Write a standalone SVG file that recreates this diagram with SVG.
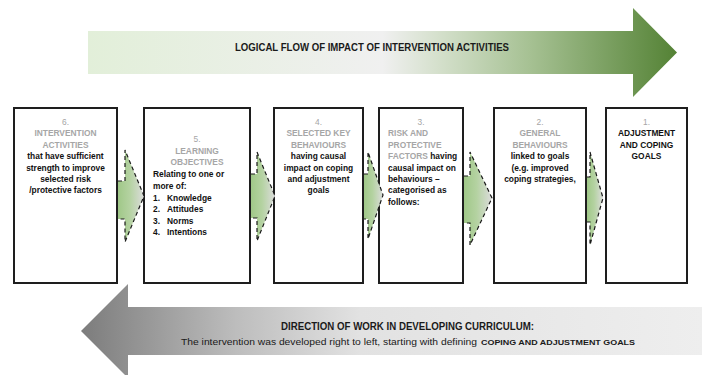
<svg xmlns="http://www.w3.org/2000/svg" width="702" height="375" viewBox="0 0 702 375">
<defs>
<linearGradient id="gTop" gradientUnits="userSpaceOnUse" x1="88" y1="0" x2="677" y2="0">
<stop offset="0" stop-color="#e2efd9"/>
<stop offset="0.5" stop-color="#f0f0f0"/>
<stop offset="0.6" stop-color="#d3dfca"/>
<stop offset="0.75" stop-color="#a6c193"/>
<stop offset="1" stop-color="#548235"/>
</linearGradient>
<linearGradient id="gBot" gradientUnits="userSpaceOnUse" x1="81" y1="0" x2="702" y2="0">
<stop offset="0" stop-color="#7c7c7c"/>
<stop offset="0.25" stop-color="#bdbdbd"/>
<stop offset="0.45" stop-color="#e2e2e2"/>
<stop offset="1" stop-color="#eeeeee"/>
</linearGradient>
<linearGradient id="gCon" x1="0" y1="0" x2="1" y2="0">
<stop offset="0" stop-color="#a0c888"/>
<stop offset="0.45" stop-color="#b4d2a1"/>
<stop offset="1" stop-color="#dcdcdc"/>
</linearGradient>
</defs>
<style>
.box{fill:#ffffff;stroke:#1e1e1e;stroke-width:2}
.con{fill:url(#gCon);stroke:#1a1a1a;stroke-width:1.2;stroke-dasharray:4 3}
text{font-family:'Liberation Sans',Arial,sans-serif;font-size:8.4px}
.b{font-weight:bold;fill:#111111}
.g{font-weight:bold;fill:#a6a6a6}
.n{fill:#a6a6a6}
.c{text-anchor:middle}
.big{font-size:10px;font-weight:bold;fill:#1a1a1a}
.norm{font-size:9.5px;fill:#1a1a1a}
.caps{font-size:7.8px;font-weight:bold;fill:#1a1a1a}
</style>

<g id="flow-arrow">
<path d="M88,31 H633 V8 L677,52.5 L633,97 V74 H88 Z" fill="url(#gTop)"/>
<text class="big" x="235" y="51" textLength="274" lengthAdjust="spacingAndGlyphs">LOGICAL FLOW OF IMPACT OF INTERVENTION ACTIVITIES</text>
</g>

<g id="dev-arrow">
<path d="M81,331 L128,284 V307 H702 V355 H128 V378 Z" fill="url(#gBot)"/>
<text class="big" x="281" y="330" textLength="253" lengthAdjust="spacingAndGlyphs">DIRECTION OF WORK IN DEVELOPING CURRICULUM:</text>
<text class="norm" x="181" y="345" textLength="296" lengthAdjust="spacingAndGlyphs">The intervention was developed right to left, starting with defining</text>
<text class="caps" x="481" y="345" textLength="154" lengthAdjust="spacingAndGlyphs">COPING AND ADJUSTMENT GOALS</text>
</g>

<g id="node-6">
<rect class="box" x="14" y="108" width="103" height="175"/>
<text class="n c" x="65.5" y="125">6.</text>
<text class="g c" x="65.5" y="136.4">INTERVENTION</text>
<text class="g c" x="65.5" y="147.8">ACTIVITIES</text>
<text class="b c" x="65.5" y="159.2">that have sufficient</text>
<text class="b c" x="65.5" y="170.6">strength to improve</text>
<text class="b c" x="65.5" y="182">selected risk</text>
<text class="b c" x="65.5" y="193.4">/protective factors</text>
</g>

<g id="node-5">
<rect class="box" x="144" y="108" width="106" height="175"/>
<text class="n c" x="197" y="142">5.</text>
<text class="g c" x="197" y="153.6">LEARNING</text>
<text class="g c" x="197" y="165">OBJECTIVES</text>
<text class="b" x="153" y="177">Relating to one or</text>
<text class="b" x="153" y="188.6">more of:</text>
<text class="b" x="153" y="200.5">1.</text><text class="b" x="167" y="200.5">Knowledge</text>
<text class="b" x="153" y="212">2.</text><text class="b" x="167" y="212">Attitudes</text>
<text class="b" x="153" y="223.5">3.</text><text class="b" x="167" y="223.5">Norms</text>
<text class="b" x="153" y="235">4.</text><text class="b" x="167" y="235">Intentions</text>
</g>

<g id="node-4">
<rect class="box" x="274" y="108" width="89" height="175"/>
<text class="n c" x="318.5" y="125">4.</text>
<text class="g c" x="318.5" y="136.4">SELECTED KEY</text>
<text class="g c" x="318.5" y="147.8">BEHAVIOURS</text>
<text class="b c" x="318.5" y="159.2">having causal</text>
<text class="b c" x="318.5" y="170.6">impact on coping</text>
<text class="b c" x="318.5" y="182">and adjustment</text>
<text class="b c" x="318.5" y="193.4">goals</text>
</g>

<g id="node-3">
<rect class="box" x="379" y="108" width="84" height="175"/>
<text class="n c" x="421" y="125">3.</text>
<text class="g" x="388" y="136.4">RISK AND</text>
<text class="g" x="388" y="147.8">PROTECTIVE</text>
<text class="g" x="388" y="159.2">FACTORS <tspan class="b">having</tspan></text>
<text class="b" x="388" y="170.6">causal impact on</text>
<text class="b" x="388" y="182">behaviours –</text>
<text class="b" x="388" y="193.4">categorised as</text>
<text class="b" x="388" y="204.8">follows:</text>
</g>

<g id="node-2">
<rect class="box" x="494" y="108" width="92" height="175"/>
<text class="n c" x="540" y="125">2.</text>
<text class="g c" x="540" y="136.4">GENERAL</text>
<text class="g c" x="540" y="147.8">BEHAVIOURS</text>
<text class="b c" x="540" y="159.2">linked to goals</text>
<text class="b c" x="540" y="170.6">(e.g. improved</text>
<text class="b c" x="540" y="182">coping strategies,</text>
</g>

<g id="node-1">
<rect class="box" x="606" y="108" width="81" height="175"/>
<text class="n c" x="646.5" y="125">1.</text>
<text class="b c" x="646.5" y="136.4">ADJUSTMENT</text>
<text class="b c" x="646.5" y="147.8">AND COPING</text>
<text class="b c" x="646.5" y="159.2">GOALS</text>
</g>

<g id="connectors">
<path class="con" d="M118,181 H125 V150 L144,196 L125,242 V219 H118"/>
<path class="con" d="M251,174 H257 V152 L275,196 L257,241 V218 H251"/>
<path class="con" d="M364,174 H368 V152 L383,195 L368,239 V219 H364"/>
<path class="con" d="M464,176 H470 V152 L492,198 L470,245 V223 H464"/>
<path class="con" d="M587,177 H590 V152 L603,198 L590,245 V222 H587"/>
</g>
</svg>
